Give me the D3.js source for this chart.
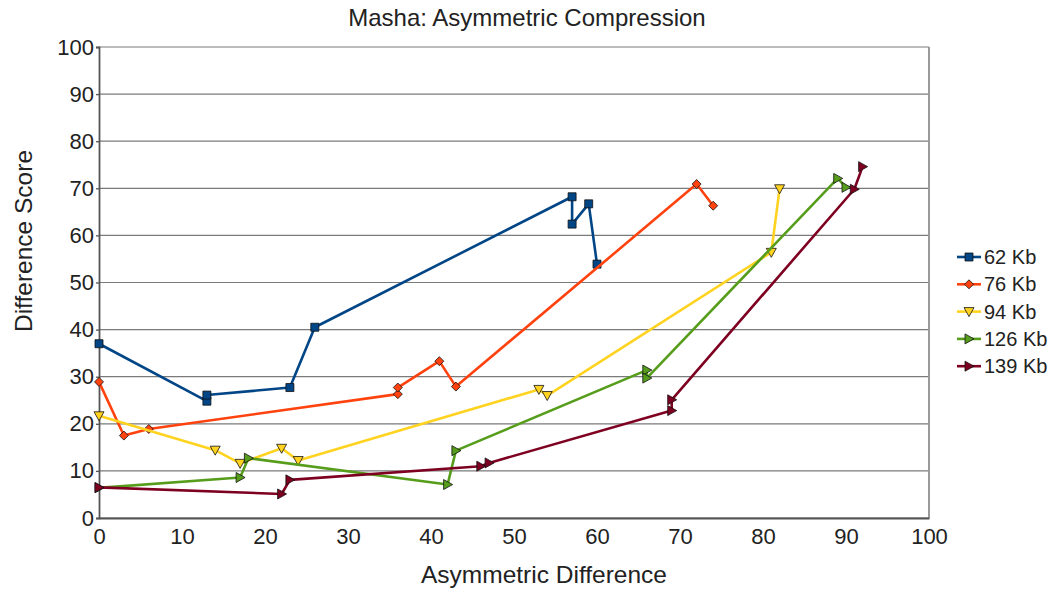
<!DOCTYPE html>
<html>
<head>
<meta charset="utf-8">
<script src="https://cdn.jsdelivr.net/npm/d3@7"></script>
<style>
  html, body { margin: 0; padding: 0; background: #fff; }
  svg { display: block; font-family: "Liberation Sans", Arial, sans-serif; }
</style>
</head>
<body>
<svg id="chart" width="1057" height="590"></svg>
<script>
// ---- data ----
const seriesNames = ["62 Kb", "76 Kb", "94 Kb", "126 Kb", "139 Kb"];
const seriesColors = ["#004586", "#ff420e", "#ffd320", "#579d1c", "#7e0021"];
const seriesMarkers = ["square", "diamond", "down", "right", "right"];

const x62 = [0, 13, 13, 23, 26, 57, 57, 59, 60];
const y62 = [37, 24.8, 26.1, 27.7, 40.5, 68.2, 62.4, 66.7, 53.9];
const x76 = [0, 3, 6, 36, 36, 41, 43, 72, 74];
const y76 = [28.9, 17.5, 18.9, 26.3, 27.7, 33.3, 27.9, 70.9, 66.3];
const x94 = [0, 14, 17, 22, 24, 53, 54, 81, 82];
const y94 = [21.7, 14.4, 11.6, 14.8, 12.2, 27.3, 26.0, 56.4, 69.9];
const x126 = [0, 17, 18, 42, 43, 66, 66, 89, 90];
const y126 = [6.4, 8.6, 12.7, 7.1, 14.3, 31.4, 29.7, 72.1, 70.2];
const x139 = [0, 22, 23, 46, 47, 69, 69, 91, 92];
const y139 = [6.5, 5.1, 8.1, 11.0, 11.7, 22.8, 25.1, 69.8, 74.6];

const xTicks = [0, 10, 20, 30, 40, 50, 60, 70, 80, 90, 100];
const yTicks = [0, 10, 20, 30, 40, 50, 60, 70, 80, 90, 100];

const seriesX = [x62, x76, x94, x126, x139];
const seriesY = [y62, y76, y94, y126, y139];

// ---- layout ----
const svg = d3.select("#chart");
const plotL = 99, plotR = 929, plotT = 47, plotB = 518;

const x = d3.scaleLinear().domain([0, 100]).range([plotL, plotR]);
const y = d3.scaleLinear().domain([0, 100]).range([plotB, plotT]);

// gridlines
svg.append("g")
  .selectAll("line")
  .data(yTicks)
  .join("line")
  .attr("x1", plotL).attr("x2", plotR)
  .attr("y1", d => y(d)).attr("y2", d => y(d))
  .attr("stroke", "#7a7a7a").attr("stroke-width", 1.2);

// right border
svg.append("line")
  .attr("x1", plotR).attr("x2", plotR).attr("y1", plotT).attr("y2", plotB)
  .attr("stroke", "#9a9a9a").attr("stroke-width", 2);

// y axis
const yAxis = svg.append("g")
  .attr("transform", `translate(${plotL},0)`)
  .call(d3.axisLeft(y).tickValues(yTicks).tickSize(3).tickPadding(2).tickFormat(d3.format("d")));
yAxis.select(".domain").attr("stroke", "#555").attr("stroke-width", 1.8);
yAxis.selectAll(".tick line").attr("stroke", "#555").attr("stroke-width", 1.3);
yAxis.selectAll(".tick text").attr("font-size", 22).attr("fill", "#222")
  .attr("font-family", "Liberation Sans, Arial, sans-serif");

// x axis
const xAxis = svg.append("g")
  .attr("transform", `translate(0,${plotB})`)
  .call(d3.axisBottom(x).tickValues(xTicks).tickSize(0).tickPadding(10).tickFormat(d3.format("d")));
xAxis.select(".domain").attr("stroke", "#555").attr("stroke-width", 1.8);
xAxis.selectAll(".tick text").attr("font-size", 22).attr("fill", "#222")
  .attr("font-family", "Liberation Sans, Arial, sans-serif");

// titles
svg.append("text").attr("x", 527).attr("y", 26).attr("text-anchor", "middle")
  .attr("font-size", 24).attr("fill", "#222").text("Masha: Asymmetric Compression");
svg.append("text").attr("x", 544).attr("y", 583).attr("text-anchor", "middle")
  .attr("font-size", 24.5).attr("fill", "#222").text("Asymmetric Difference");
svg.append("text").attr("transform", "translate(32,241) rotate(-90)").attr("text-anchor", "middle")
  .attr("font-size", 24.5).attr("fill", "#222").text("Difference Score");

// marker paths
function markerPath(type) {
  switch (type) {
    case "square": return "M-4,-4L4,-4L4,4L-4,4Z";
    case "diamond": return "M0,-4.5L4.5,0L0,4.5L-4.5,0Z";
    case "down": return "M-5,-4L5,-4L0,5Z";
    case "right": return "M-4,-5L5,0L-4,5Z";
  }
}

const line = d3.line().x(d => x(d[0])).y(d => y(d[1]));

seriesNames.forEach((name, i) => {
  const pts = seriesX[i].map((v, j) => [v, seriesY[i][j]]);
  const g = svg.append("g");
  g.append("path").datum(pts).attr("d", line)
    .attr("fill", "none").attr("stroke", seriesColors[i]).attr("stroke-width", 2.6)
    .attr("stroke-linejoin", "round");
  g.selectAll("path.m").data(pts).join("path").attr("class", "m")
    .attr("d", markerPath(seriesMarkers[i]))
    .attr("transform", d => `translate(${x(d[0])},${y(d[1])})`)
    .attr("fill", seriesColors[i]).attr("stroke", "#111").attr("stroke-width", 0.8);
});

// legend
const legend = svg.append("g");
seriesNames.forEach((name, i) => {
  const ly = 257 + i * 27.3;
  legend.append("line").attr("x1", 957).attr("x2", 981).attr("y1", ly).attr("y2", ly)
    .attr("stroke", seriesColors[i]).attr("stroke-width", 2.6);
  legend.append("path").attr("d", markerPath(seriesMarkers[i]))
    .attr("transform", `translate(969,${ly})`)
    .attr("fill", seriesColors[i]).attr("stroke", "#111").attr("stroke-width", 0.8);
  legend.append("text").attr("x", 984).attr("y", ly + 7)
    .attr("font-size", 20).attr("fill", "#222").text(name);
});
</script>
</body>
</html>
